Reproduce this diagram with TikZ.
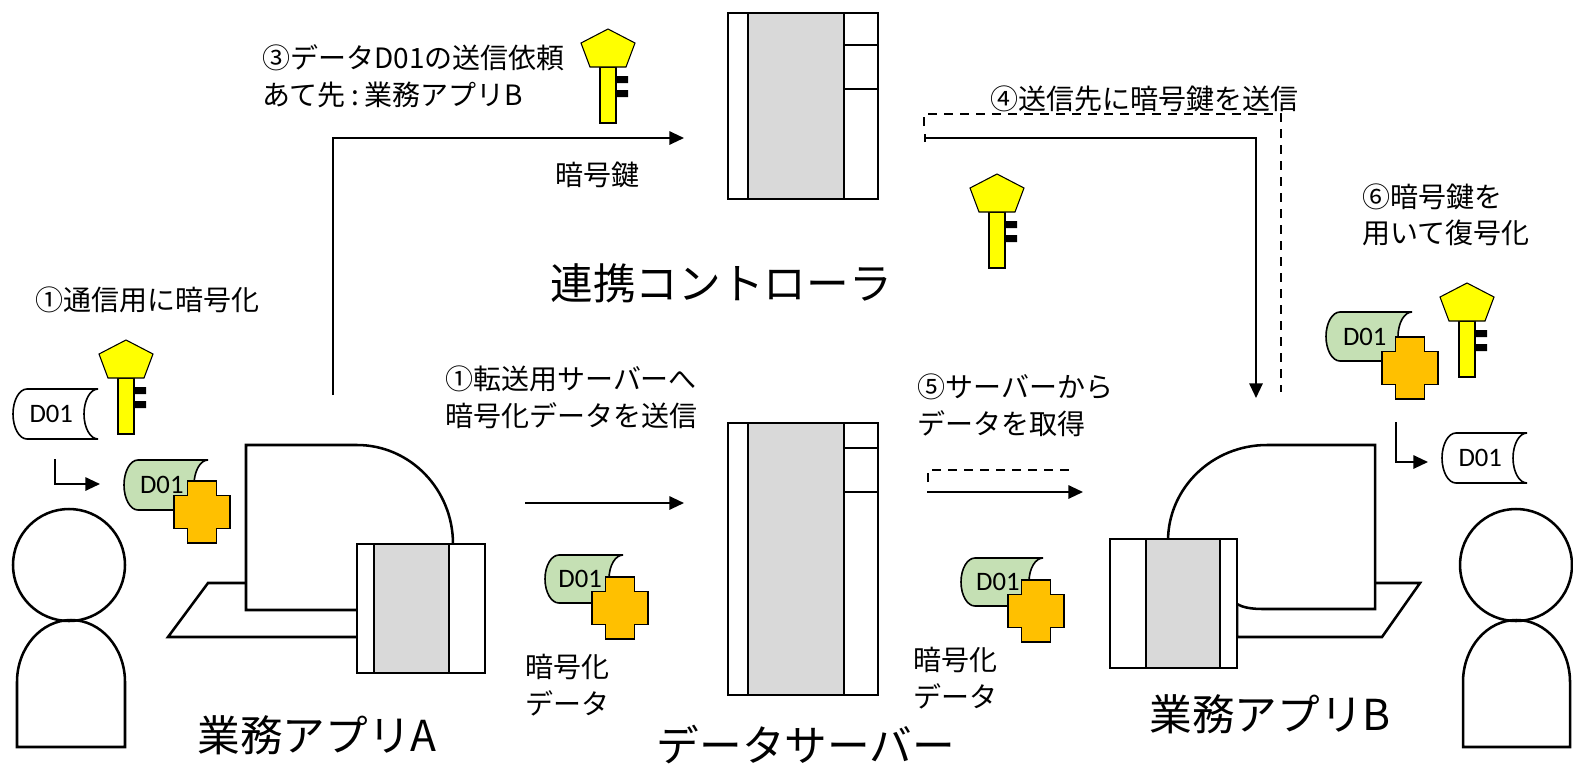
\documentclass[tikz,border=0pt]{standalone}
\usepackage{fontspec}
\setmainfont{Noto Sans CJK JP}
\newfontfamily\docfont{Carlito}
\usetikzlibrary{arrows.meta}
\definecolor{docgreen}{HTML}{C5E0B4}
\definecolor{lockorange}{HTML}{FFC000}
\definecolor{keyyellow}{HTML}{FFFF00}
\definecolor{bandgray}{HTML}{D9D9D9}

\tikzset{
  outline/.style={draw=black, line width=1.9pt},
  thinline/.style={draw=black, line width=0.8pt},
  docline/.style={draw=black, line width=1.2pt},
  flow/.style={line width=1.5pt, -{Triangle[length=11pt,width=10pt]}},
  flowdash/.style={line width=1.5pt, dash pattern=on 7pt off 5pt},
  smalllabel/.style={font=\fontsize{21}{27.5}\selectfont, align=left, anchor=west, inner sep=0pt},
  biglabel/.style={font=\fontsize{32}{38}\selectfont, inner sep=0pt},
  doclabel/.style={font=\docfont\fontsize{20}{24}\selectfont, inner sep=0pt},
  pics/cryptokey/.style={code={
    \filldraw[thinline, fill=keyyellow] (-8,0) rectangle (8,56);
    \filldraw[thinline, fill=keyyellow] (0,-38) -- (27,-24) -- (18,0) -- (-18,0) -- (-27,-24) -- cycle;
    \fill[black] (8,9) rectangle (20,16) (8,23) rectangle (20,30);
  }},
  pics/lockcross/.style={code={
    \filldraw[thinline, fill=lockorange] (-14.5,-31) -- (14.5,-31) -- (14.5,-16.5) -- (28,-16.5)
      -- (28,16.5) -- (14.5,16.5) -- (14.5,31) -- (-14.5,31) -- (-14.5,16.5) -- (-28,16.5)
      -- (-28,-16.5) -- (-14.5,-16.5) -- cycle;
  }},
}

% stored-data scroll: x, y, width, height, fill, node name
\newcommand\datadoc[6]{%
  \filldraw[docline, fill=#5] ({#1+14},#2) -- ({#1+#3},#2)
    arc[start angle=270, end angle=90, x radius=14, y radius={#4/2}]
    -- ({#1+14},{#2+#4})
    arc[start angle=90, end angle=270, x radius=14, y radius={#4/2}] -- cycle;
  \node[doclabel] (#6) at ({#1+0.45*#3},{#2+#4/2}) {D01};
}

% server cabinet: left, top, bottom, first and second divider, name
\newcommand\servercab[6]{%
  \filldraw[outline, fill=white] (#1,#2) rectangle ({#1+150},#3);
  \filldraw[outline, fill=bandgray] ({#1+20},#2) rectangle ({#1+116},#3);
  \draw[outline] ({#1+116},#4) -- ({#1+150},#4) ({#1+116},#5) -- ({#1+150},#5);
  \coordinate (#6) at ({#1+75},{(#2+#3)/2});
}

\begin{document}
\begin{tikzpicture}[x=0.75pt, y=-0.75pt]
\useasboundingbox (0,0) rectangle (1573,772);

% ---- people ----
\draw[outline] (69,565) circle (56);
\draw[outline] (17,747) -- (17,682) arc[start angle=180, end angle=360, x radius=54, y radius=62] -- (125,747) -- cycle;
\coordinate (userA) at (69,565);
\draw[outline] (1516,565) circle (56);
\draw[outline] (1463,747) -- (1463,682) arc[start angle=180, end angle=360, x radius=53.5, y radius=62] -- (1570,747) -- cycle;
\coordinate (userB) at (1516,565);

% ---- application A ----
\filldraw[outline, fill=white] (168,637) -- (208,583) -- (358,583) -- (358,637) -- cycle;
\filldraw[outline, fill=white] (246,610) -- (246,445) -- (357,445)
  arc[start angle=270, end angle=360, x radius=96, y radius=99] -- (453,610) -- cycle;
\filldraw[outline, fill=white] (357,544) rectangle (485,673);
\filldraw[outline, fill=bandgray] (374,544) rectangle (449,673);
\coordinate (appA) at (333,395);

% ---- application B ----
\filldraw[outline, fill=white] (1237,637) -- (1382,637) -- (1420,583) -- (1237,583) -- cycle;
\filldraw[outline, fill=white] (1168,541) arc[start angle=180, end angle=270, x radius=99, y radius=96]
  -- (1375,445) -- (1375,609) -- (1263,609) .. controls (1250,609) and (1242,607) .. (1237,604) -- cycle;
\filldraw[outline, fill=white] (1110,539) rectangle (1237,668);
\filldraw[outline, fill=bandgray] (1146,539) rectangle (1220,668);

% ---- servers ----
\servercab{728}{13}{199}{45}{89}{ctrl}
\servercab{728}{423}{695}{448}{492}{dsrv}

% ---- keys ----
\pic at (126,378) {cryptokey};
\pic at (608,67) {cryptokey};
\pic at (997,212) {cryptokey};
\pic at (1467,321) {cryptokey};

% ---- data documents ----
\datadoc{13}{389}{85}{50}{white}{plainA}
\datadoc{124}{460}{84}{50}{docgreen}{encA}
\pic at (202,512) {lockcross};
\datadoc{545}{555}{78}{48}{docgreen}{encS1}
\pic at (620,608) {lockcross};
\datadoc{961}{558}{82}{48}{docgreen}{encS2}
\pic at (1036,611) {lockcross};
\datadoc{1326}{312}{86}{49}{docgreen}{encB}
\pic at (1410,368) {lockcross};
\datadoc{1442}{433}{85}{50}{white}{plainB}

% ---- connectors ----
\coordinate (encStart) at (55,459);
\coordinate (encEnd) at (100,484);
\draw[flow] (encStart) |- (encEnd);
\coordinate (decStart) at (1396,422);
\coordinate (decEnd) at (1428,462);
\draw[flow] (decStart) |- (decEnd);

\coordinate (reqEnd) at (684,138);
\draw[flow] (appA) |- (reqEnd);

\coordinate (upStart) at (525,503);
\coordinate (upEnd) at (684,503);
\draw[flow] (upStart) -- (upEnd);

\coordinate (keyStart) at (924,138);
\coordinate (keyEnd) at (1256,398);
\draw[line width=1.5pt, {Bar[width=6pt]}-{Triangle[length=11pt,width=10pt]}] (keyStart) -| (keyEnd);
\coordinate (keyDashA) at (924,126);
\coordinate (keyDashC) at (1281,114);
\coordinate (keyDashB) at (1281,392);
\draw[flowdash] (keyDashA) |- (keyDashC) -- (keyDashB);

\coordinate (getStart) at (927,492);
\coordinate (getEnd) at (1083,492);
\draw[flow] (getStart) -- (getEnd);
\coordinate (getDashA) at (928,482);
\coordinate (getDashB) at (1073,470);
\draw[flowdash] (getDashA) |- (getDashB);

% ---- labels ----
\node[smalllabel] (t1) at (35,300) {①通信用に暗号化};
\node[smalllabel] (t3) at (262,76) {③データD01の送信依頼\\あて先\hspace{4pt}:\hspace{4pt}業務アプリB};
\node[smalllabel] (tkey) at (555,175) {暗号鍵};
\node[smalllabel] (t4) at (990,99) {④送信先に暗号鍵を送信};
\node[smalllabel] (t6) at (1362,215) {⑥暗号鍵を\\用いて復号化};
\node[smalllabel] (t2) at (445,397) {①転送用サーバーへ\\暗号化データを送信};
\node[smalllabel] (t5) at (917,405) {⑤サーバーから\\データを取得};
\node[smalllabel] (tenc1) at (525,685) {暗号化\\データ};
\node[smalllabel] (tenc2) at (913,678) {暗号化\\データ};

\node[biglabel] (lctrl) at (721,283) {連携コントローラ};
\node[biglabel] (lappA) at (317,735) {業務アプリA};
\node[biglabel] (ldsrv) at (806,745) {データサーバー};
\node[biglabel] (lappB) at (1270,714) {業務アプリB};
\end{tikzpicture}
\end{document}
